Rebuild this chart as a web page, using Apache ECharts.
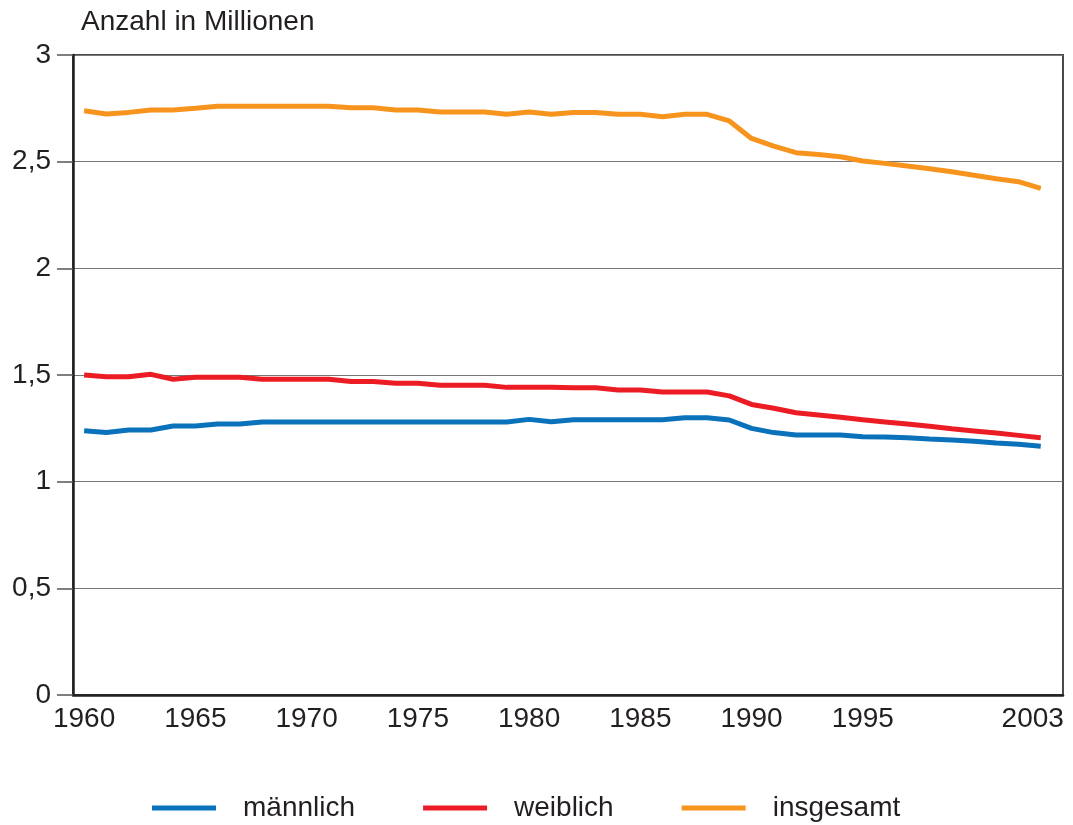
<!DOCTYPE html>
<html>
<head>
<meta charset="utf-8">
<script src="https://cdn.jsdelivr.net/npm/echarts@6/dist/echarts.min.js"></script>
<style>
html,body{margin:0;padding:0;background:#fff;}
#chart{width:1073px;height:825px;}
</style>
</head>
<body>
<div id="chart"></div>
<script>
const years = [1960,1961,1962,1963,1964,1965,1966,1967,1968,1969,1970,1971,1972,1973,1974,1975,1976,1977,1978,1979,1980,1981,1982,1983,1984,1985,1986,1987,1988,1989,1990,1991,1992,1993,1994,1995,1996,1997,1998,1999,2000,2001,2002,2003];
const maennlich = [1.239,1.230,1.242,1.242,1.261,1.261,1.270,1.270,1.280,1.280,1.280,1.280,1.280,1.280,1.280,1.280,1.280,1.280,1.280,1.280,1.292,1.281,1.290,1.290,1.290,1.290,1.290,1.300,1.300,1.289,1.250,1.230,1.219,1.219,1.219,1.211,1.209,1.206,1.200,1.195,1.189,1.181,1.175,1.166];
const weiblich = [1.500,1.492,1.492,1.503,1.480,1.489,1.489,1.489,1.480,1.480,1.480,1.480,1.470,1.470,1.461,1.461,1.452,1.452,1.452,1.442,1.442,1.442,1.440,1.440,1.430,1.430,1.420,1.420,1.420,1.402,1.362,1.344,1.323,1.313,1.302,1.290,1.280,1.270,1.260,1.248,1.238,1.228,1.217,1.206];
const insgesamt = [2.739,2.723,2.731,2.742,2.742,2.750,2.760,2.760,2.760,2.760,2.760,2.760,2.753,2.753,2.742,2.742,2.733,2.733,2.733,2.722,2.733,2.722,2.731,2.731,2.722,2.722,2.711,2.722,2.722,2.691,2.609,2.573,2.542,2.534,2.523,2.503,2.492,2.480,2.467,2.453,2.436,2.420,2.406,2.375];
const xTickLabels = [1960,1965,1970,1975,1980,1985,1990,1995,2003];
const seriesNames = ['männlich','weiblich','insgesamt'];
const seriesColors = ['#0a71bb','#ec1c24','#f7941d'];
const yTitle = 'Anzahl in Millionen';

const FONT = 'Liberation Sans, Arial, Helvetica, sans-serif';
const TXT = '#231f20';

function pairs(vals){ return years.map((y,i)=>[y, vals[i]]); }

const chart = echarts.init(document.getElementById('chart'), null, {renderer:'canvas'});
chart.setOption({
  animation:false,
  backgroundColor:'#ffffff',
  title:{
    text:yTitle, left:76, top:3,
    textStyle:{fontFamily:FONT,fontSize:28,fontWeight:'normal',color:TXT}
  },
  grid:{
    left:73, right:10, top:55, bottom:130,
    show:true, borderColor:'#4a4a4a', borderWidth:2, backgroundColor:'transparent'
  },
  legend:{
    data:seriesNames,
    left:147, top:789,
    icon:'rect', itemWidth:64, itemHeight:5, itemGap:68,
    textStyle:{fontFamily:FONT,fontSize:28,color:TXT,padding:[0,0,0,22]}
  },
  xAxis:{
    type:'value', min:1959.5, max:2004, interval:0.5,
    axisLine:{show:true,lineStyle:{color:TXT,width:2.5}},
    axisTick:{show:false},
    splitLine:{show:false},
    axisLabel:{
      fontFamily:FONT,fontSize:28,color:TXT,margin:10,
      formatter:function(v){
        if (xTickLabels.indexOf(v) < 0) return '';
        if (v === xTickLabels[xTickLabels.length-1]) return '{r|' + v + '}';
        return String(v);
      },
      rich:{r:{fontFamily:FONT,fontSize:28,color:TXT,padding:[0,16,0,0]}}
    }
  },
  yAxis:{
    type:'value', min:0, max:3, interval:0.5,
    axisLine:{show:true,lineStyle:{color:TXT,width:2.5}},
    axisTick:{show:true,inside:false,length:16,lineStyle:{color:'#555',width:1.5}},
    splitLine:{show:true,lineStyle:{color:'#777',width:1}},
    axisLabel:{
      fontFamily:FONT,fontSize:28,color:TXT,margin:22,
      formatter:function(v){ return String(v).replace('.', ','); }
    }
  },
  series:[
    {name:seriesNames[0],type:'line',data:pairs(maennlich),showSymbol:false,lineStyle:{color:seriesColors[0],width:5},itemStyle:{color:seriesColors[0]},z:3},
    {name:seriesNames[1],type:'line',data:pairs(weiblich),showSymbol:false,lineStyle:{color:seriesColors[1],width:5},itemStyle:{color:seriesColors[1]},z:3},
    {name:seriesNames[2],type:'line',data:pairs(insgesamt),showSymbol:false,lineStyle:{color:seriesColors[2],width:5},itemStyle:{color:seriesColors[2]},z:3}
  ]
});
</script>
</body>
</html>
